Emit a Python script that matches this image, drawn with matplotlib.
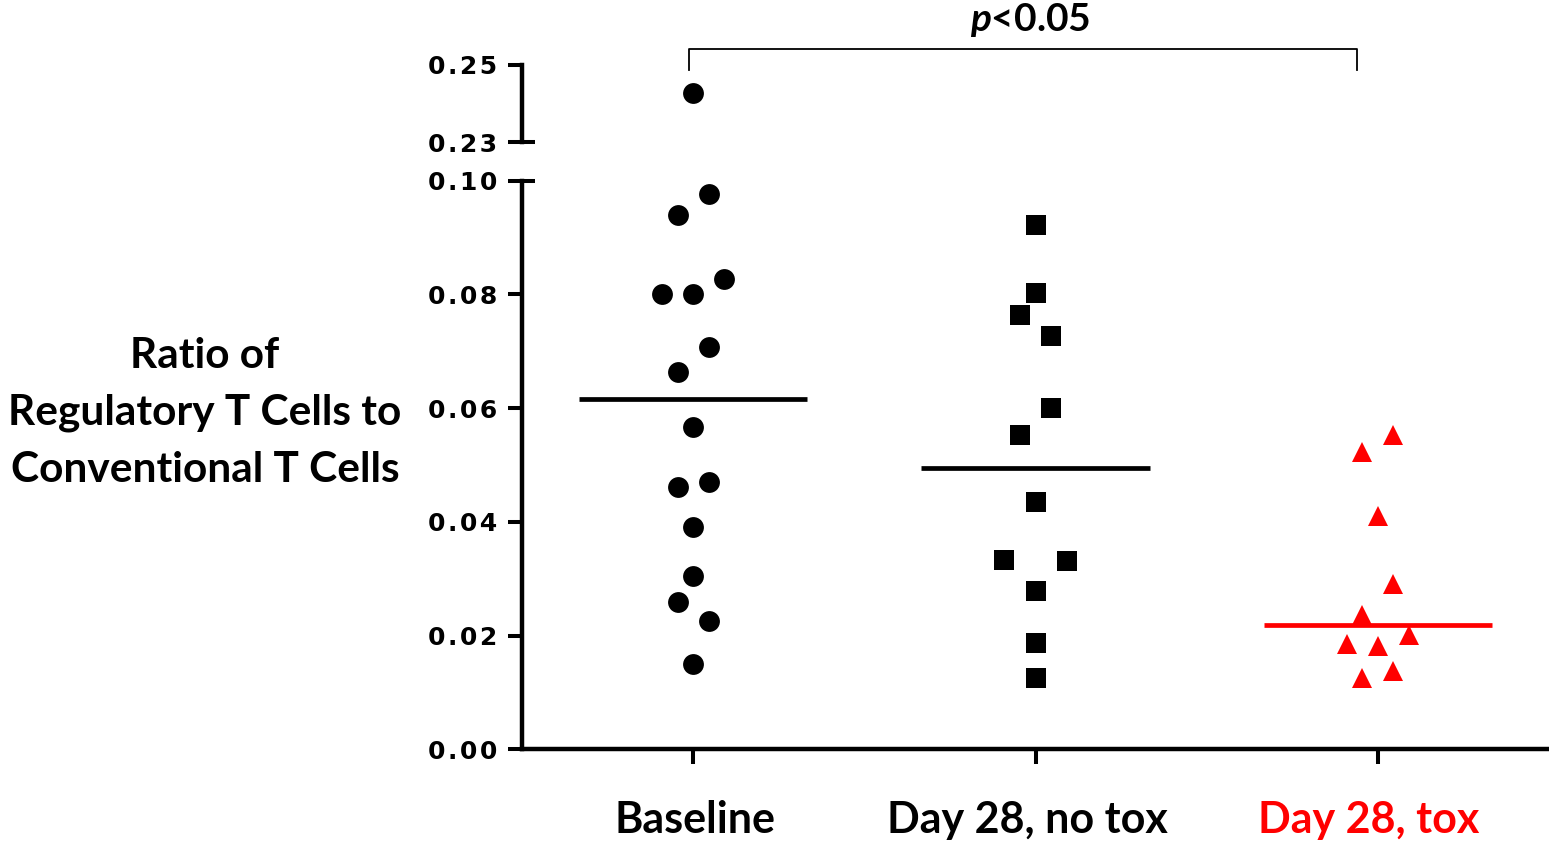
import numpy as np
import matplotlib
matplotlib.use("Agg")
import matplotlib.pyplot as plt
from matplotlib.transforms import blended_transform_factory, ScaledTranslation

# ---- data ---------------------------------------------------------------
categories = ["Baseline", "Day 28, no tox", "Day 28, tox"]

baseline = [0.2428, 0.0976, 0.0939, 0.0827, 0.0800, 0.0800, 0.0708, 0.0664,
            0.0567, 0.0471, 0.0461, 0.0391, 0.0305, 0.0260, 0.0225, 0.0151]
day28_no_tox = [0.0922, 0.0802, 0.0763, 0.0726, 0.0601, 0.0553, 0.0435,
                0.0333, 0.0332, 0.0279, 0.0187, 0.0126]
day28_tox = [0.0553, 0.0523, 0.0411, 0.0291, 0.0237, 0.0201, 0.0186,
             0.0182, 0.0138, 0.0126]

lower_ticks = [0.00, 0.02, 0.04, 0.06, 0.08, 0.10]
upper_ticks = [0.23, 0.25]
p_label = "<0.05"

# horizontal scatter slots (in units of one jitter step) for each point
slots_baseline = [0, 1, -1, 2, -2, 0, 1, -1, 0, 1, -1, 0, 0, -1, 1, 0]
slots_no_tox = [0, 0, -1, 1, 1, -1, 0, -2, 2, 0, 0, 0]
slots_tox = [1, -1, 0, 1, -1, 2, -2, 0, 1, -1]

# ---- style --------------------------------------------------------------
RED = "#FF0000"
BLACK = "#000000"
JITTER = 0.0453
MS = 15
SPINE_W = 3.2
LABEL_FONT = "Lato"
TICK_FONT = "DejaVu Sans"
TICK_SIZE = 18
HAIR = "\u200a"

plt.rcParams["mathtext.fontset"] = "custom"
plt.rcParams["mathtext.it"] = "Lato:italic:bold"
plt.rcParams["mathtext.rm"] = "Lato:bold"


def spaced(value):
    """Tick label with widened letter spacing."""
    return HAIR.join(f"{value:.2f}")


groups = [
    (baseline, slots_baseline, "o", BLACK),
    (day28_no_tox, slots_no_tox, "s", BLACK),
    (day28_tox, slots_tox, "^", RED),
]

fig = plt.figure(figsize=(15.49, 8.44), dpi=100)
ax_lo = fig.add_axes([0.3370, 0.1120, 0.6630, 0.6741])
ax_hi = fig.add_axes([0.3370, 0.8314, 0.6630, 0.0916])

for ax in (ax_lo, ax_hi):
    for i, (vals, slots, marker, color) in enumerate(groups):
        xs = i + np.asarray(slots) * JITTER
        ax.plot(xs, vals, linestyle="none", marker=marker, ms=MS,
                color=color, markeredgewidth=0, zorder=3)
        med = np.median(vals)
        ax.hlines(med, i - 1 / 3, i + 1 / 3, color=color, lw=3.4, zorder=4)
    ax.set_xlim(-0.5, 2.5)
    for side in ("top", "right"):
        ax.spines[side].set_visible(False)
    ax.spines["left"].set_linewidth(SPINE_W)
    ax.spines["bottom"].set_linewidth(SPINE_W)
    ax.tick_params(axis="y", which="major", direction="out", length=10,
                   width=2.9, pad=8)
    ax.yaxis.remove_overlapping_locs = False

# lower panel
ax_lo.set_ylim(0, 0.10)
ax_lo.set_yticks(lower_ticks)
ax_lo.set_yticklabels([spaced(t) for t in lower_ticks],
                      fontfamily=TICK_FONT, fontweight="bold",
                      fontsize=TICK_SIZE)
ax_lo.set_yticks([0.10], minor=True)
ax_lo.tick_params(axis="y", which="minor", direction="in", length=9.4,
                  width=2.9)
ax_lo.set_xticks(range(len(categories)))
ax_lo.set_xticklabels(categories, fontfamily=LABEL_FONT, fontweight="bold",
                      fontsize=31)
ax_lo.get_xticklabels()[2].set_color(RED)
ax_lo.tick_params(axis="x", direction="out", length=10.5, width=2.9, pad=26)
for lbl, dx in zip(ax_lo.get_xticklabels(), (2, -8, -9)):
    lbl.set_transform(lbl.get_transform()
                      + ScaledTranslation(dx / 100, 0, fig.dpi_scale_trans))

# upper panel (axis break)
ax_hi.set_ylim(0.23, 0.25)
ax_hi.set_yticks(upper_ticks)
ax_hi.set_yticklabels([spaced(t) for t in upper_ticks],
                      fontfamily=TICK_FONT, fontweight="bold",
                      fontsize=TICK_SIZE)
ax_hi.set_yticks([0.23], minor=True)
ax_hi.tick_params(axis="y", which="minor", direction="in", length=9.4,
                  width=2.9)
ax_hi.spines["bottom"].set_visible(False)
ax_hi.set_xticks([])

# significance bracket
tr = blended_transform_factory(ax_hi.transData, ax_hi.transAxes)
ax_hi.plot([-0.013, -0.013, 1.938, 1.938], [0.929, 1.203, 1.203, 0.929],
           transform=tr, color=BLACK, lw=1.3, clip_on=False)
ax_hi.text(0.984, 1.44, r"$p$" + p_label, transform=tr, ha="center",
           va="baseline", fontfamily=LABEL_FONT, fontweight="bold",
           fontsize=28)

# y-axis title
fig.text(205 / 1549, 0.5107,
         "Ratio of\nRegulatory T Cells to\nConventional T Cells",
         ha="center", va="center", fontfamily=LABEL_FONT,
         fontweight="bold", fontsize=30.5, linespacing=1.61)

fig.savefig("out.png", dpi=100)
